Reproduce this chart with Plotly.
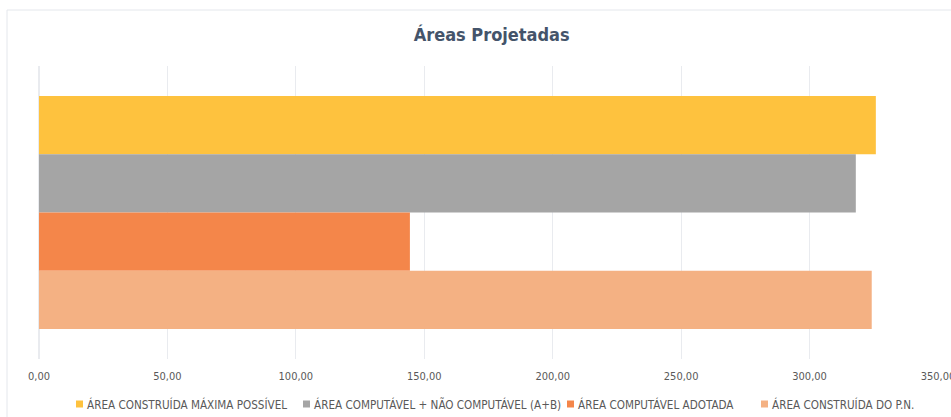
import plotly.graph_objects as go

category = ["Áreas"]
series_names = [
    "ÁREA CONSTRUÍDA MÁXIMA POSSÍVEL",
    "ÁREA COMPUTÁVEL + NÃO COMPUTÁVEL (A+B)",
    "ÁREA COMPUTÁVEL ADOTADA",
    "ÁREA CONSTRUÍDA DO P.N.",
]
series_values = [325.8, 318.0, 144.4, 324.2]
series_colors = ["#FEC23E", "#A5A5A5", "#F4864A", "#F4B183"]
tick_vals = [0, 50, 100, 150, 200, 250, 300, 350]

FONT = "DejaVu Sans Condensed"

# plot-area geometry in pixels (for converting legend / border positions)
L, R, T, B = 39, 13, 66, 58
W, H = 951, 417
PW, PH = W - L - R, H - T - B


def px_x(px):
    return (px - L) / PW


def px_y(py):
    return (H - B - py) / PH


fig = go.Figure()
for name, val, col in zip(series_names, series_values, series_colors):
    fig.add_trace(go.Bar(
        y=category, x=[val], name=name, orientation="h",
        marker=dict(color=col, line=dict(width=0)),
        hoverinfo="x+name", showlegend=False,
    ))

fig.update_layout(
    width=W, height=H,
    margin=dict(l=L, r=R, t=T, b=B, autoexpand=False),
    paper_bgcolor="white", plot_bgcolor="white",
    barmode="group", bargap=0.205, bargroupgap=0,
    separators=",.",
    font=dict(family=FONT, color="#595959", size=11),
    title=dict(text="<b>Áreas Projetadas</b>", x=0.517, xanchor="center",
               y=1 - 35 / H, yanchor="middle",
               font=dict(family=FONT, size=18, color="#44546A")),
    xaxis=dict(range=[0, 350], tickvals=tick_vals, tickformat=".2f",
               showgrid=True, gridcolor="#E9EBEF", gridwidth=1,
               zeroline=True, zerolinecolor="#E9EBEF", showline=False,
               ticks="", ticklabelstandoff=9, ticklabeloverflow="allow",
               tickfont=dict(family=FONT, size=11, color="#595959")),
    yaxis=dict(autorange="reversed", showticklabels=False, showgrid=False,
               zeroline=False, showline=False, ticks=""),
    showlegend=False,
)

# custom legend (symbol squares + labels)
legend_sym_x = [76, 303, 567, 761]
legend_y = 404
for name, col, sx in zip(series_names, series_colors, legend_sym_x):
    fig.add_shape(type="rect", xref="paper", yref="paper",
                  x0=px_x(sx), x1=px_x(sx + 7),
                  y0=px_y(legend_y + 3.5), y1=px_y(legend_y - 3.5),
                  line=dict(width=0), fillcolor=col)
    fig.add_annotation(text=name, xref="paper", yref="paper",
                       x=px_x(sx + 9), y=px_y(legend_y),
                       xanchor="left", yanchor="middle", showarrow=False,
                       font=dict(family=FONT, size=11.6, color="#595959"))

# chart-area border
fig.add_shape(type="rect", xref="paper", yref="paper",
              x0=px_x(7), x1=px_x(975), y0=px_y(440), y1=px_y(10),
              line=dict(color="#E4E7EC", width=1), fillcolor="rgba(0,0,0,0)",
              layer="below")

fig.write_html("out.html",
               config={"displayModeBar": False},
               post_script="document.body.style.margin='0';"
                           "document.body.style.overflow='hidden';")
